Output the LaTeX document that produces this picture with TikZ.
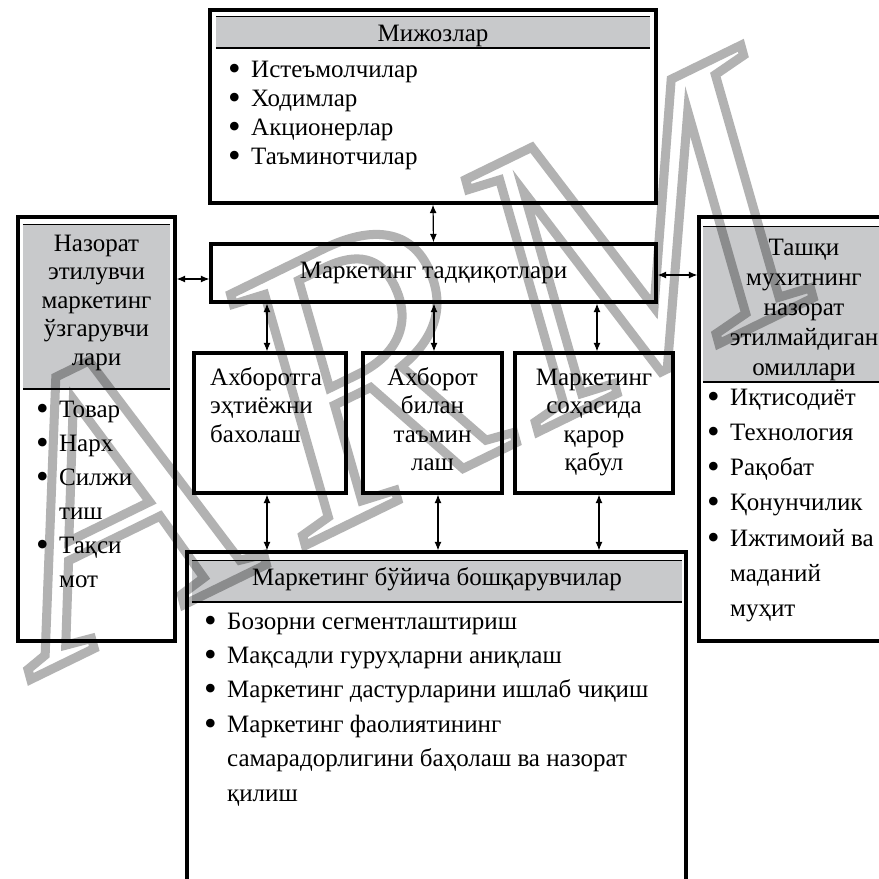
\documentclass[tikz,border=0pt]{standalone}
\usepackage{fontspec}
\setmainfont{Liberation Serif}
\usetikzlibrary{arrows.meta}

\definecolor{hdrgray}{RGB}{200,201,203}

% bullet and hanging indent for list lines
\newcommand\bul{\makebox[23pt][l]{\raisebox{-3pt}{\fontsize{36}{36}\selectfont •}}}
\newcommand\cont{\hspace*{23pt}}
% stacked lines with a fixed baseline distance; the block's baseline is its first line
\newcommand\leftlines[2]{\vtop{\baselineskip=#1\relax\lineskiplimit=-100pt\lineskip=0pt\halign{##\hfil\cr#2\crcr}}}
\newcommand\centerlines[2]{\vtop{\baselineskip=#1\relax\lineskiplimit=-100pt\lineskip=0pt\halign{\hfil##\hfil\cr#2\crcr}}}

\begin{document}
\begin{tikzpicture}[x=1pt,y=-1pt,
  box/.style={draw=black, line width=3.2pt, inner sep=0pt},
  hdr/.style={fill=hdrgray, inner sep=0pt},
  hdrtop/.style={line width=1.2pt, black},
  hdrbot/.style={line width=2.2pt, black},
  txt/.style={inner sep=0pt, text=black, font=\fontsize{25}{29}\selectfont},
  dbl/.style={line width=1.2pt, black, {Latex[length=8.5pt,width=7pt]}-{Latex[length=8.5pt,width=7pt]}}]

\useasboundingbox (0,0) rectangle (879,879);
\fill[white] (0,0) rectangle (879,879);
\clip (0,0) rectangle (879,879);

% ---- clients (top) ----
\node[box, minimum width=446pt, minimum height=193pt] (clients) at (433,106.5) {};
\node[hdr, minimum width=434pt, minimum height=31pt] (clientshdr) at (433,32.5) {};
\draw[hdrtop] (clientshdr.north west) -- (clientshdr.north east);
\draw[hdrbot] (clientshdr.south west) -- (clientshdr.south east);
\node[txt, anchor=base] (clientsttl) at (433,41) {Мижозлар};
\node[txt, anchor=base west] (clientslist) at (228,77)
  {\leftlines{29pt}{\bul Истеъмолчилар\cr \bul Ходимлар\cr \bul Акционерлар\cr \bul Таъминотчилар\cr}};

% ---- marketing research ----
\node[box, txt, minimum width=445pt, minimum height=58pt] (research) at (433.5,273) {Маркетинг тадқиқотлари};

% ---- controllable variables (left) ----
\node[box, minimum width=157pt, minimum height=424pt] (ctrl) at (96.5,429) {};
\node[hdr, minimum width=147pt, minimum height=164pt] (ctrlhdr) at (96.5,307) {};
\draw[hdrtop] (ctrlhdr.north west) -- (ctrlhdr.north east);
\draw[hdrbot] (ctrlhdr.south west) -- (ctrlhdr.south east);
\node[txt, anchor=base] (ctrlttl) at (96.5,251)
  {\centerlines{28.5pt}{Назорат\cr этилувчи\cr маркетинг\cr ўзгарувчи\cr лари\cr}};
\node[txt, anchor=base west] (ctrllist) at (36,417)
  {\leftlines{34pt}{\bul Товар\cr \bul Нарх\cr \bul Силжи\cr \cont тиш\cr \bul Тақси\cr \cont мот\cr}};

% ---- uncontrollable environment factors (right) ----
\node[box, minimum width=211pt, minimum height=424pt] (unctrl) at (804.5,429) {};
\node[hdr, minimum width=203pt, minimum height=155pt] (unctrlhdr) at (804.5,304.5) {};
\draw[hdrtop] (unctrlhdr.north west) -- (unctrlhdr.north east);
\draw[hdrbot] (unctrlhdr.south west) -- (unctrlhdr.south east);
\node[txt, anchor=base] (unctrlttl) at (804,255)
  {\centerlines{30pt}{Ташқи\cr мухитнинг\cr назорат\cr этилмайдиган\cr омиллари\cr}};
\node[txt, anchor=base west] (unctrllist) at (707,405)
  {\leftlines{35.3pt}{\bul Иқтисодиёт\cr \bul Технология\cr \bul Рақобат\cr \bul Қонунчилик\cr \bul Ижтимоий ва\cr \cont маданий\cr \cont муҳит\cr}};

% ---- three middle blocks ----
\node[box, minimum width=152pt, minimum height=140pt] (need) at (270,423) {};
\node[txt, anchor=base west] (needtxt) at (210,385)
  {\leftlines{28.5pt}{Ахборотга\cr эҳтиёжни\cr бахолаш\cr}};
\node[box, minimum width=139pt, minimum height=140pt] (supply) at (432.5,423) {};
\node[txt, anchor=base] (supplytxt) at (432.5,385)
  {\centerlines{28.5pt}{Ахборот\cr билан\cr таъмин\cr лаш\cr}};
\node[box, minimum width=158pt, minimum height=140pt] (decide) at (594,423) {};
\node[txt, anchor=base] (decidetxt) at (594,385)
  {\centerlines{28.5pt}{Маркетинг\cr соҳасида\cr қарор\cr қабул\cr}};

% ---- marketing managers (bottom) ----
\node[box, minimum width=499pt, minimum height=348pt] (mgr) at (436.5,726) {};
\node[hdr, minimum width=490pt, minimum height=41pt] (mgrhdr) at (437,581.5) {};
\draw[hdrtop] (mgrhdr.north west) -- (mgrhdr.north east);
\draw[hdrbot] (mgrhdr.south west) -- (mgrhdr.south east);
\node[txt, anchor=base] (mgrttl) at (437,585) {Маркетинг бўйича бошқарувчилар};
\node[txt, anchor=base west] (mgrlist) at (204,629)
  {\leftlines{34.4pt}{\bul Бозорни сегментлаштириш\cr
   \bul Мақсадли гуруҳларни аниқлаш\cr
   \bul Маркетинг дастурларини ишлаб чиқиш\cr
   \bul Маркетинг фаолиятининг\cr
   \cont самарадорлигини баҳолаш ва назорат\cr
   \cont қилиш\cr}};

% ---- two-way links ----
\draw[dbl] (clients.south) -- (research.north);
\draw[dbl] ([yshift=-6pt]research.west) -- ([yshift=-6pt]research.west -| ctrl.east);
\draw[dbl] ([yshift=-2pt]research.east) -- ([yshift=-2pt]research.east -| unctrl.west);
\draw[dbl] ([xshift=-3pt]need.north) -- ([xshift=-3pt]need.north |- research.south);
\draw[dbl] ([xshift=1.5pt]supply.north) -- ([xshift=1.5pt]supply.north |- research.south);
\draw[dbl] ([xshift=3pt]decide.north) -- ([xshift=3pt]decide.north |- research.south);
\draw[dbl] ([xshift=-3pt]need.south) -- ([xshift=-3pt]need.south |- mgr.north);
\draw[dbl] ([xshift=5.5pt]supply.south) -- ([xshift=5.5pt]supply.south |- mgr.north);
\draw[dbl] ([xshift=5pt]decide.south) -- ([xshift=5pt]decide.south |- mgr.north);

% ---- outlined watermark lettering ----
\begin{scope}[blend mode=multiply]
\node[inner sep=0pt, anchor=base west, rotate=26, font=\fontsize{395}{395}\itshape\selectfont] (wm) at (50,670)
  {\special{pdf:literal direct 1 Tr 9 w 0.70 G}A\kern45pt R\kern20pt M};
\end{scope}
\end{tikzpicture}
\end{document}
